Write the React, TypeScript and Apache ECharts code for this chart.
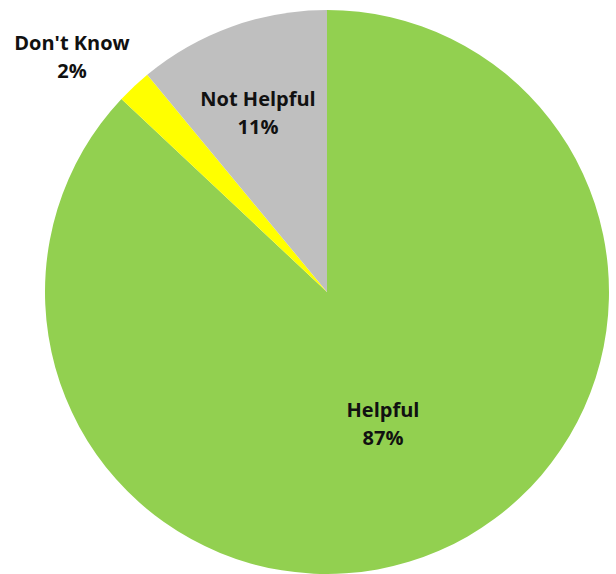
import React, { useEffect, useRef } from "react";
import * as echarts from "echarts";

const categories = ["Helpful", "Don't Know", "Not Helpful"];
const values = [87, 2, 11];
const colors = ["#92D050", "#FFFF00", "#BFBFBF"];

export default function App() {
  const ref = useRef<HTMLDivElement>(null);
  useEffect(() => {
    document.body.style.margin = "0";
    const chart = echarts.init(ref.current!, null, { renderer: "svg" });
    chart.setOption({
      animation: false,
      backgroundColor: "#ffffff",
      series: [
        {
          type: "pie",
          center: [327, 292],
          radius: 282,
          startAngle: 90,
          clockwise: true,
          avoidLabelOverlap: false,
          itemStyle: { borderWidth: 0 },
          label: {
            show: true,
            position: "inside",
            formatter: "{b}\n{d}%",
            fontFamily: "Open Sans",
            fontWeight: "bold",
            fontSize: 20,
            lineHeight: 28,
            color: "#111111",
            align: "center",
          },
          labelLine: { show: false },
          labelLayout: (p: any) => {
            if (p.dataIndex === 1) return { x: 72, y: 56, align: "center", verticalAlign: "middle" };
            if (p.dataIndex === 2) return { x: 258, y: 112, align: "center", verticalAlign: "middle" };
            return { x: 383, y: 423, align: "center", verticalAlign: "middle" };
          },
          emphasis: { disabled: true },
          data: categories.map((c, i) => ({
            name: c,
            value: values[i],
            itemStyle: { color: colors[i] },
          })),
        },
      ],
    });
    return () => chart.dispose();
  }, []);
  return <div ref={ref} style={{ width: 616, height: 574 }} />;
}
